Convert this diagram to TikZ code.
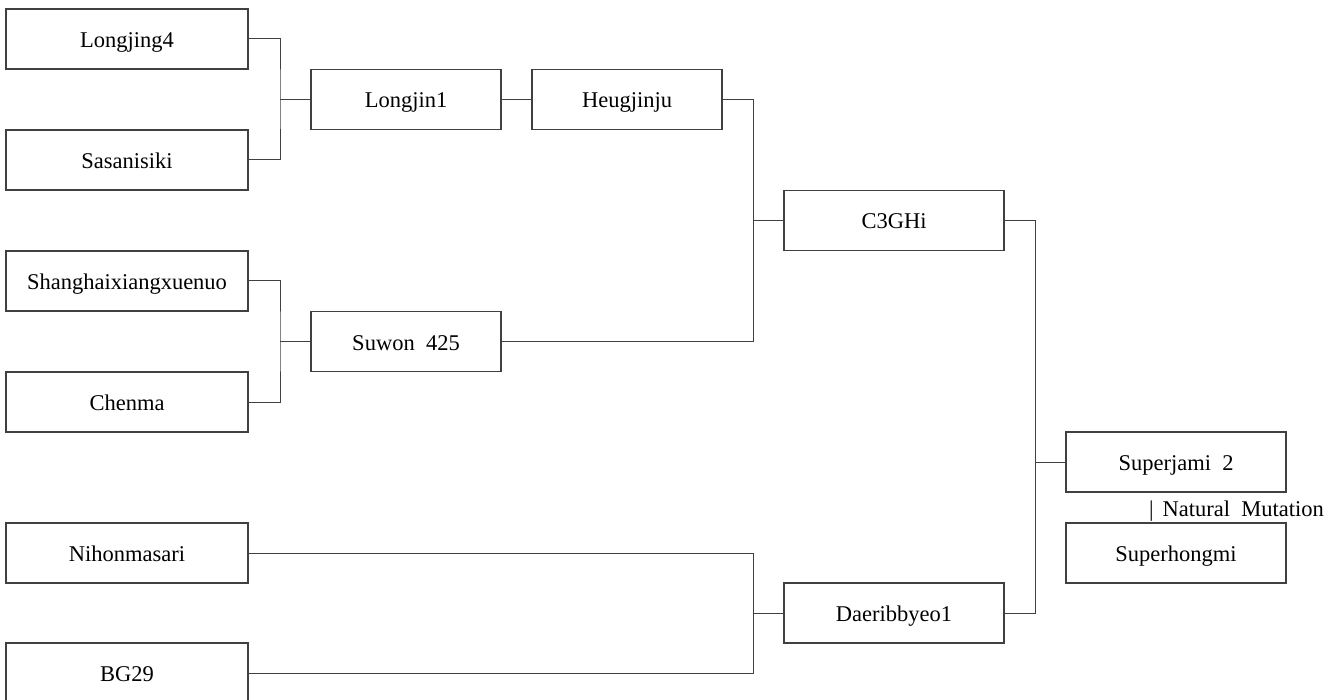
\documentclass[tikz,border=0pt]{standalone}
\usepackage{fontspec}
\setmainfont{Liberation Serif}
\begin{document}
\begin{tikzpicture}[x=1pt,y=-1pt,
  link/.style={draw=black!75,line width=1pt},
  pbox/.style={draw=black!75,line width=1.2pt,inner sep=0pt,minimum height=60pt,text height=18pt,text depth=1pt,text=black,font=\fontsize{22.5}{27}\selectfont},
  wbox/.style={pbox,minimum width=242pt},
  mbox/.style={pbox,minimum width=190pt},
  rbox/.style={pbox,minimum width=220pt}]
\useasboundingbox (0,0) rectangle (1337,700);
% left column
\node[wbox] (L4)  at (127,39)  {Longjing4};
\node[wbox] (Sas) at (127,160) {Sasanisiki};
\node[wbox] (Sha) at (127,281) {Shanghaixiangxuenuo};
\node[wbox] (Che) at (127,402) {Chenma};
\node[wbox] (Nih) at (127,553) {Nihonmasari};
\node[wbox] (BG)  at (127,673) {BG29};
% middle
\node[mbox] (Lj1) at (406,99.5)  {Longjin1};
\node[mbox] (Heu) at (627,99.5)  {Heugjinju};
\node[mbox] (Suw) at (406,341.5) {Suwon\ \ 425};
\node[rbox] (C3)  at (894,220.5) {C3GHi};
\node[rbox] (Dae) at (894,613)   {Daeribbyeo1};
\node[rbox] (SJ)  at (1176,462)  {Superjami\ \ 2};
\node[rbox] (SH)  at (1176,553)  {Superhongmi};
\node[anchor=west,inner sep=0pt,font=\fontsize{22.5}{27}\selectfont] (NM) at (1149,511) {|\hspace{9pt}Natural\ \ Mutation};
% junctions
\coordinate (j1) at (280,99.5);
\coordinate (j2) at (280,341.5);
\coordinate (j3) at (753,220.5);
\coordinate (j4) at (753,613);
\coordinate (j5) at (1035,462);
% connectors
\draw[link] (L4.east) -| (j1) |- (Sas.east);
\draw[link] (j1) -- (Lj1.west);
\draw[link] (Lj1.east) -- (Heu.west);
\draw[link] (Sha.east) -| (j2) |- (Che.east);
\draw[link] (j2) -- (Suw.west);
\draw[link] (Heu.east) -| (j3) |- (Suw.east);
\draw[link] (j3) -- (C3.west);
\draw[link] (Nih.east) -| (j4) |- (BG.east);
\draw[link] (j4) -- (Dae.west);
\draw[link] (C3.east) -| (j5) |- (Dae.east);
\draw[link] (j5) -- (SJ.west);
\end{tikzpicture}
\end{document}
